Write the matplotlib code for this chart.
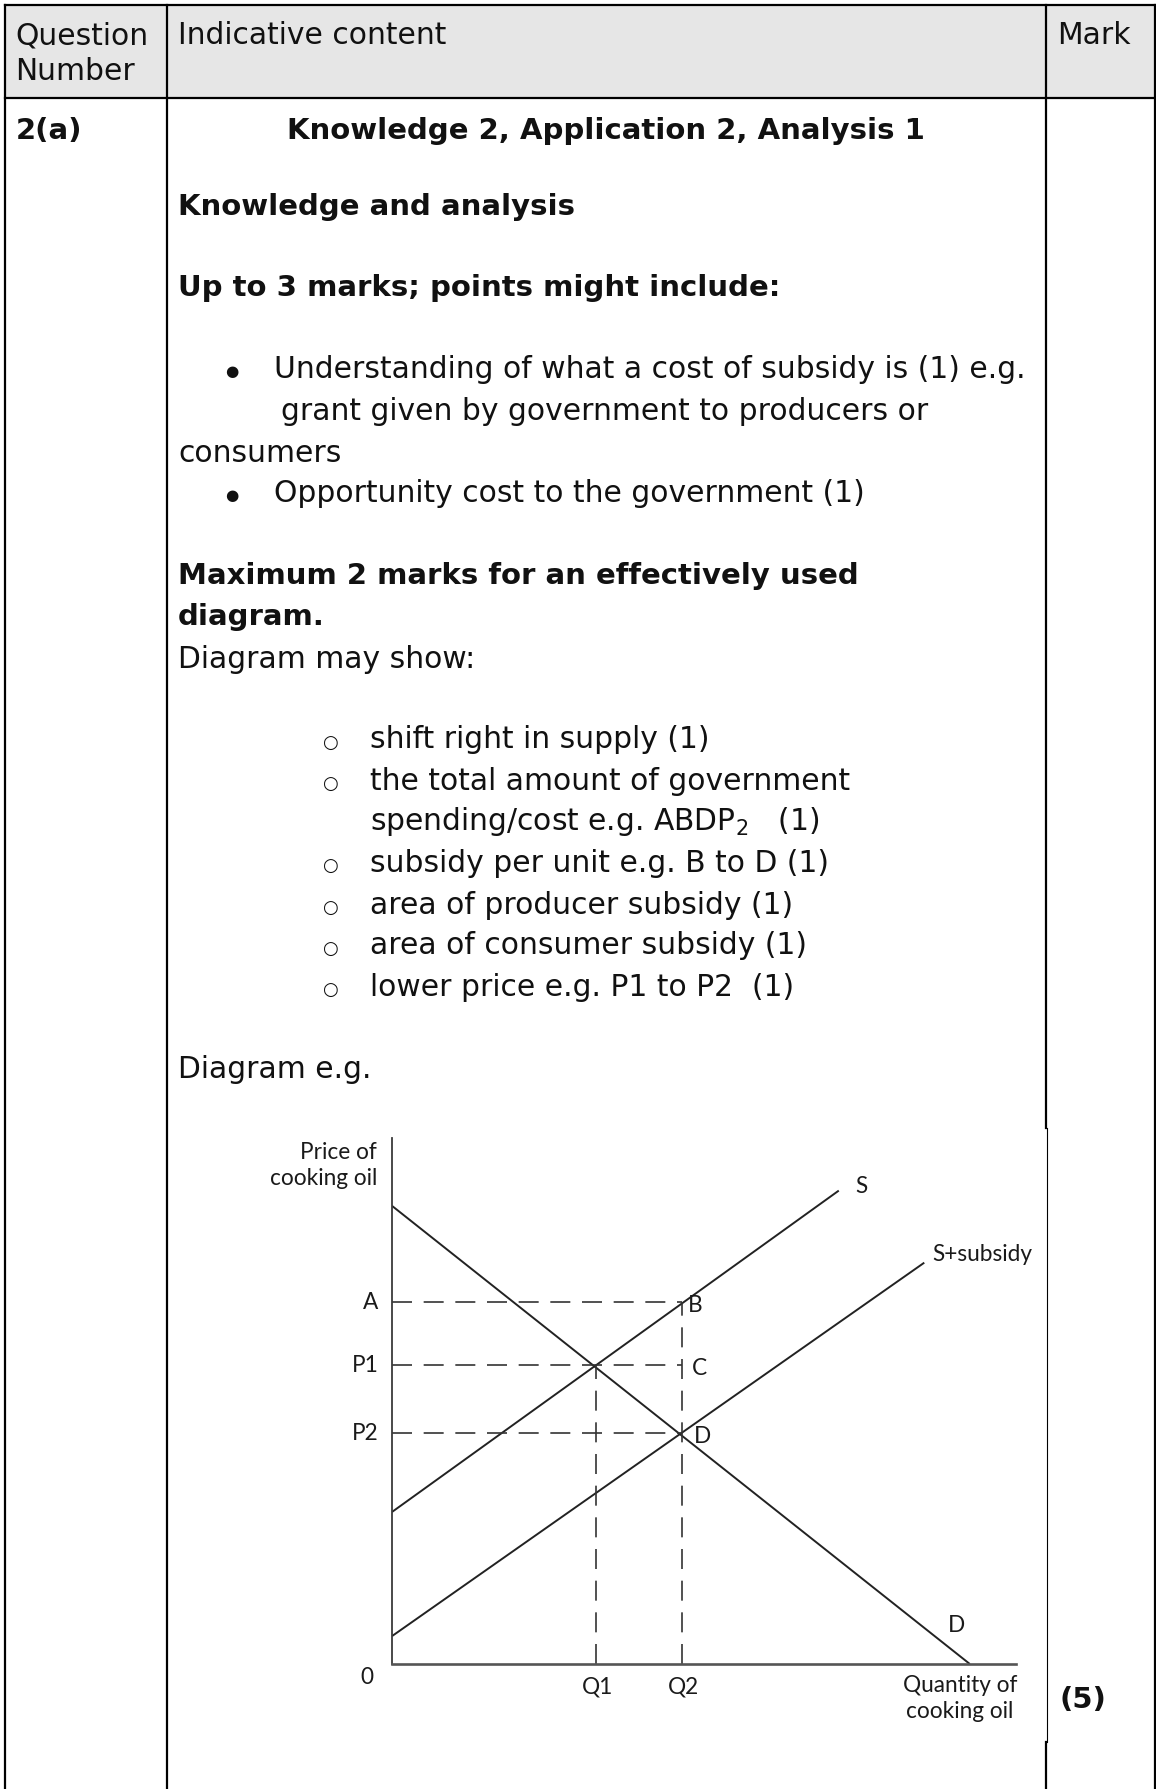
import matplotlib
matplotlib.use("Agg")
import matplotlib.pyplot as plt

# supply / demand diagram (quantity, price) in diagram units 0-100
demand_q = [0, 92.6]
demand_p = [87.1, 0]
supply_q = [0, 71.6]
supply_p = [28.9, 90.0]
subsidy_q = [0, 85.3]
subsidy_p = [5.3, 76.3]

price_labels = ["A", "P1", "P2"]
price_levels = [68.8, 56.8, 43.9]
qty_labels = ["Q1", "Q2"]
qty_levels = [32.7, 46.4]
point_labels = ["B", "C", "D"]

header = ["Question", "Number", "Indicative content", "Mark"]
question = "2(a)"
mark = "(5)"
criteria = "Knowledge 2, Application 2, Analysis 1"
knowledge_points = [
    "Understanding of what a cost of subsidy is (1) e.g.",
    "Opportunity cost to the government (1)",
]
diagram_points = [
    "shift right in supply (1)",
    "the total amount of government",
    "subsidy per unit e.g. B to D (1)",
    "area of producer subsidy (1)",
    "area of consumer subsidy (1)",
    "lower price e.g. P1 to P2  (1)",
]

W, H = 1156, 1789
FS = 21.4
FS_BOLD = 21.0
TEXT = "#111111"


def page_text(ax, x, y, s, **kw):
    if kw.get("fontweight") == "bold":
        kw.setdefault("fontsize", FS_BOLD)
    kw.setdefault("fontsize", FS)
    kw.setdefault("color", TEXT)
    kw.setdefault("va", "center")
    ax.text(x, y + 2, s, **kw)


def main():
    fig = plt.figure(figsize=(W / 100, H / 100), dpi=100)
    page = fig.add_axes([0, 0, 1, 1])
    page.set_xlim(0, W)
    page.set_ylim(H, 0)
    page.axis("off")

    # table frame
    page.fill_between([5, 1155], 5, 98, color="#e6e6e6", lw=0)
    lw = 1.6
    page.plot([5, 1155], [5, 5], color="k", lw=lw)
    page.plot([5, 1155], [98, 98], color="k", lw=lw)
    page.plot([5, 5], [5, H], color="k", lw=lw)
    page.plot([167, 167], [5, H], color="k", lw=lw)
    page.plot([1046, 1046], [5, 1128], color="k", lw=lw)
    page.plot([1047, 1047], [1128, 1742], color="k", lw=0.8)
    page.plot([1046, 1046], [1742, H], color="k", lw=lw)
    page.plot([1154.5, 1154.5], [5, H], color="k", lw=lw)

    # header
    page_text(page, 15, 34, header[0])
    page_text(page, 15, 70, header[1])
    page_text(page, 178, 34, header[2])
    page_text(page, 1057, 34, header[3])

    page_text(page, 16, 129, question, fontweight="bold")
    page_text(page, 606, 129, criteria, fontweight="bold", ha="center")
    page_text(page, 178, 205, "Knowledge and analysis", fontweight="bold")
    page_text(page, 178, 286, "Up to 3 marks; points might include:",
              fontweight="bold")

    page_text(page, 232, 370, "\u25cf", fontsize=11, ha="center")
    page_text(page, 274, 368, knowledge_points[0])
    page_text(page, 281, 410, "grant given by government to producers or")
    page_text(page, 178, 451, "consumers")
    page_text(page, 232, 494, "\u25cf", fontsize=11, ha="center")
    page_text(page, 274, 492, knowledge_points[1])

    page_text(page, 178, 574, "Maximum 2 marks for an effectively used",
              fontweight="bold")
    page_text(page, 178, 615, "diagram.", fontweight="bold")
    page_text(page, 178, 657, "Diagram may show:")

    rows = [738, 779, 861, 903, 944, 985]
    for y, s in zip(rows, diagram_points):
        page_text(page, 330, y + 3, "\u25cb", fontsize=13, ha="center")
        page_text(page, 370, y, s)
    page_text(page, 370, 820, "spending/cost e.g. ABDP$_2$   (1)")

    page_text(page, 178, 1068, "Diagram e.g.")
    page_text(page, 1059, 1698, mark, fontweight="bold")

    # diagram
    ax = fig.add_axes([392 / W, (H - 1664) / H, (1016 - 392) / W,
                       (1664 - 1138) / H])
    ax.set_xlim(0, 100)
    ax.set_ylim(0, 100)
    ax.patch.set_alpha(0)
    for side in ["top", "right"]:
        ax.spines[side].set_visible(False)
    ax.spines["left"].set_color("#3a3a3a")
    ax.spines["left"].set_linewidth(1.3)
    ax.spines["bottom"].set_color("#555555")
    ax.spines["bottom"].set_linewidth(1.9)
    ax.set_xticks([])
    ax.set_yticks([])

    line_kw = dict(color="#222222", lw=1.4, solid_capstyle="butt")
    ax.plot(demand_q, demand_p, **line_kw)
    ax.plot(supply_q, supply_p, **line_kw)
    ax.plot(subsidy_q, subsidy_p, **line_kw)

    dash_kw = dict(color="#333333", lw=1.2, ls=(0, (12, 7)))
    q2 = qty_levels[1]
    for p in price_levels:
        ax.plot([0, q2], [p, p], **dash_kw)
    ax.plot([qty_levels[0], qty_levels[0]], [0, price_levels[1]], **dash_kw)
    ax.plot([q2, q2], [0, price_levels[0]], **dash_kw)

    dfont = dict(family=["Lato", "DejaVu Sans"], fontsize=16.3,
                 color="#1a1a1a")
    ax.text(-2.4, 94.8, "Price of\ncooking oil", ha="right", va="center",
            linespacing=1.3, clip_on=False, **dfont)
    for lab, p in zip(price_labels, price_levels):
        ax.text(-2.2, p, lab, ha="right", va="center", clip_on=False, **dfont)
    for lab, q in zip(qty_labels, qty_levels):
        ax.text(q + 0.3, -4.3, lab, ha="center", va="center", clip_on=False,
                **dfont)
    ax.text(-4.0, -2.6, "0", ha="center", va="center", clip_on=False, **dfont)
    ax.text(91.0, -6.5, "Quantity of\ncooking oil", ha="center", va="center",
            linespacing=1.3, clip_on=False, **dfont)

    for lab, p, dx in zip(point_labels, price_levels, [1.0, 1.6, 1.9]):
        ax.text(q2 + dx, p - 0.6, lab, ha="left", va="center", clip_on=False,
                **dfont)
    ax.text(75.3, 90.7, "S", ha="center", va="center", clip_on=False, **dfont)
    ax.text(86.6, 77.9, "S+subsidy", ha="left", va="center", clip_on=False,
            **dfont)
    ax.text(90.4, 7.4, "D", ha="center", va="center", clip_on=False, **dfont)

    fig.savefig("out.png", dpi=100)


if __name__ == "__main__":
    main()
